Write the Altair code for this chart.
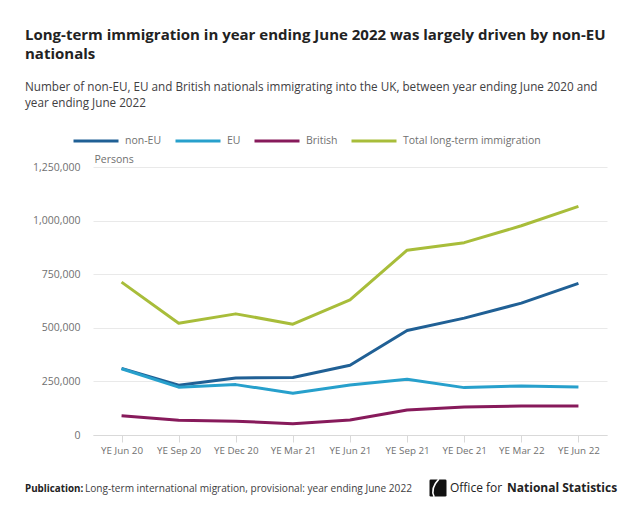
import altair as alt
import pandas as pd

periods = ["YE Jun 20", "YE Sep 20", "YE Dec 20", "YE Mar 21", "YE Jun 21",
           "YE Sep 21", "YE Dec 21", "YE Mar 22", "YE Jun 22"]
non_eu = [311000, 232000, 266000, 268000, 325000, 487000, 545000, 615000, 707000]
eu = [309000, 223000, 235000, 195000, 233000, 260000, 221000, 229000, 224000]
british = [90000, 69000, 64000, 53000, 70000, 117000, 131000, 135000, 135000]
total = [713000, 521000, 565000, 517000, 630000, 862000, 897000, 976000, 1066000]

series_names = ["non-EU", "EU", "British", "Total long-term immigration"]
series_colors = ["#206095", "#27a0cc", "#871a5b", "#a8bd3a"]
y_ticks = [0, 250000, 500000, 750000, 1000000, 1250000]

title_lines = ["Long-term immigration in year ending June 2022 was largely driven by non-EU",
               "nationals"]
subtitle_lines = ["Number of non-EU, EU and British nationals immigrating into the UK, between year ending June 2020 and",
                  "year ending June 2022"]
footer_bold = "Publication:"
footer_text = "Long-term international migration, provisional: year ending June 2022"
logo_regular = "Office for"
logo_bold = "National Statistics"

rows = []
for name, vals in zip(series_names, [non_eu, eu, british, total]):
    for p, v in zip(periods, vals):
        rows.append({"period": p, "series": name, "value": v})
df = pd.DataFrame(rows)

FONT = "Open Sans"
GREY = "#707070"

lines = alt.Chart(df).mark_line(strokeWidth=3, strokeJoin="round").encode(
    x=alt.X("period:O", sort=periods, scale=alt.Scale(type="point", padding=0.5),
            axis=alt.Axis(title=None, labelAngle=0, labelColor=GREY, labelFontSize=9.8,
                          labelFont=FONT, domainColor="#d9d9d9", tickColor="#d9d9d9",
                          tickSize=7, labelPadding=3, grid=False)),
    y=alt.Y("value:Q", scale=alt.Scale(domain=[0, 1250000], nice=False),
            axis=alt.Axis(values=y_ticks, labelExpr="format(datum.value, ',')",
                          title="Persons", titleAngle=0,
                          titleAlign="left", titleBaseline="middle", titleX=1, titleY=-8,
                          titleFontWeight="normal", titleColor=GREY, titleFontSize=10.5,
                          titleFont=FONT, labelColor=GREY, labelFontSize=10.5, labelFont=FONT,
                          labelPadding=13, domain=False, ticks=False, gridColor="#e9e9e9")),
    color=alt.Color("series:N", sort=series_names,
                    scale=alt.Scale(domain=series_names, range=series_colors),
                    legend=alt.Legend(title=None, orient="none", direction="horizontal",
                                      legendX=-21, legendY=-50, symbolType="stroke",
                                      symbolSize=2025, symbolStrokeWidth=3,
                                      labelFontSize=10.5, labelColor=GREY, labelFont=FONT,
                                      labelOffset=5, columnPadding=7, padding=0,
                                      labelLimit=400)),
)


def label(text, x, y, size, color="#222222", weight="normal"):
    return alt.Chart(pd.DataFrame({"t": [text]})).mark_text(
        align="left", baseline="middle", font=FONT, fontSize=size,
        fontWeight=weight, color=color
    ).encode(text="t:N", x=alt.value(x), y=alt.value(y))


ann = [
    label(title_lines[0], -68, -132, 15, "#222222", "bold"),
    label(title_lines[1], -68, -113, 15, "#222222", "bold"),
    label(subtitle_lines[0], -68, -80, 11.7, "#414042"),
    label(subtitle_lines[1], -68, -64, 11.7, "#414042"),
    label(footer_bold, -68, 322, 9.8, "#222222", "bold"),
    label(footer_text, -8, 322, 10.1, "#414042"),
    label(logo_regular, 357, 321, 12, "#222222"),
    label(logo_bold, 414, 321, 12, "#222222", "bold"),
]

logo_box = alt.Chart(pd.DataFrame({"k": ["logo"]})).mark_point(
    shape="M-0.85,-1 L0.85,-1 Q1,-1 1,-0.85 L1,0.85 Q1,1 0.85,1 L-0.85,1 Q-1,1 -1,0.85 L-1,-0.85 Q-1,-1 -0.85,-1 Z",
    filled=True, color="#111111", opacity=1, size=289
).encode(x=alt.value(345), y=alt.value(321))

logo_curve = alt.Chart(pd.DataFrame({"k": ["curve"]})).mark_point(
    shape="M0.1,-1.05 Q-0.95,0.05 -0.45,1.05",
    filled=False, stroke="white", strokeWidth=1.6, opacity=1, size=289
).encode(x=alt.value(345), y=alt.value(321))

chart = alt.layer(lines, *ann, logo_box, logo_curve).properties(
    width=514, height=268,
    background="white",
    autosize=alt.AutoSizeParams(type="none"),
    padding={"left": 85, "top": 159, "right": 25, "bottom": 73},
).configure_view(stroke="transparent", strokeWidth=0)

chart.save("out.html", embed_options={"renderer": "svg", "actions": False})
